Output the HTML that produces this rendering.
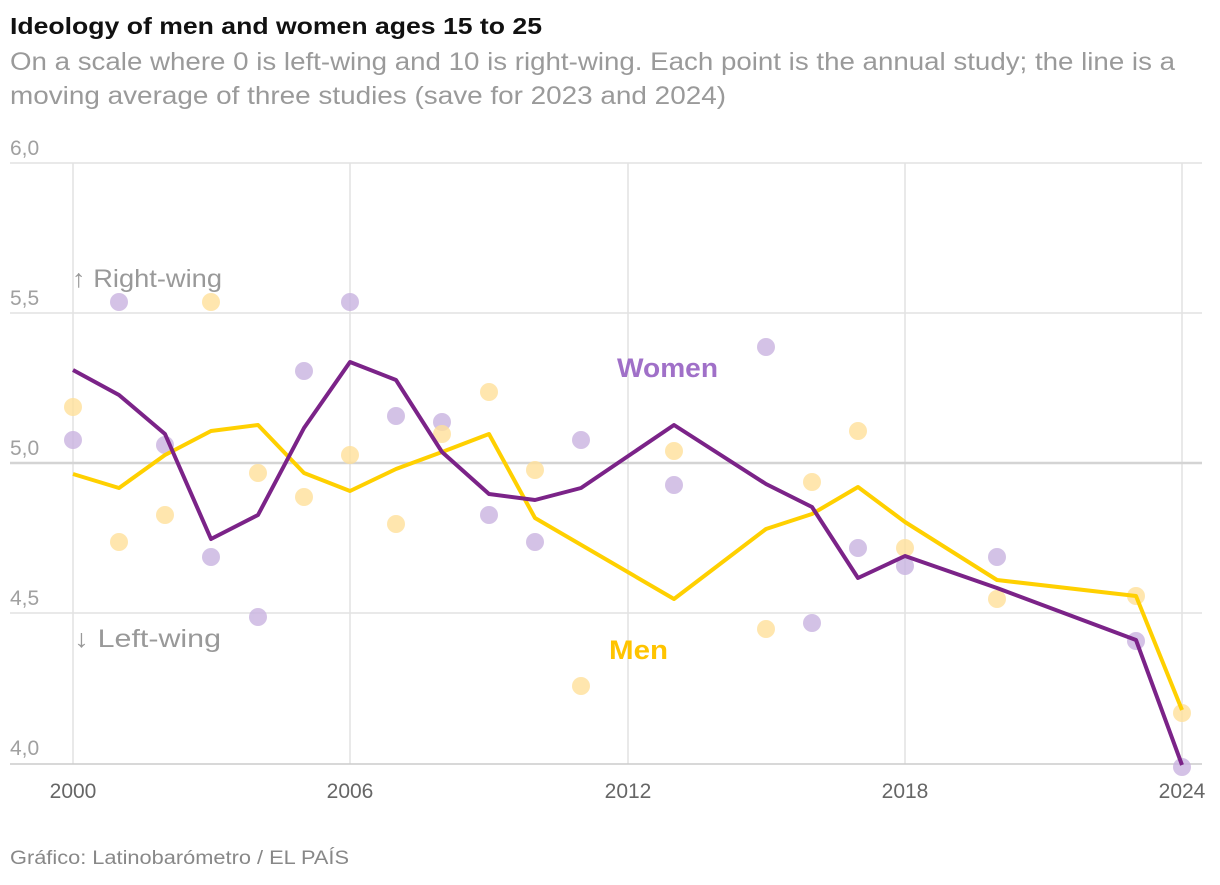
<!DOCTYPE html>
<html><head><meta charset="utf-8"><style>
body{margin:0;background:#fff;font-family:"Liberation Sans",sans-serif;}
</style></head><body>
<svg width="1220" height="880" xmlns="http://www.w3.org/2000/svg" font-family="Liberation Sans, sans-serif">
<text x="10" y="34" font-size="23" font-weight="bold" fill="#111" textLength="532" lengthAdjust="spacingAndGlyphs">Ideology of men and women ages 15 to 25</text>
<text x="10" y="70" font-size="25" fill="#9a9a9a" textLength="1165" lengthAdjust="spacingAndGlyphs">On a scale where 0 is left-wing and 10 is right-wing. Each point is the annual study; the line is a</text>
<text x="10" y="104" font-size="25" fill="#9a9a9a" textLength="716" lengthAdjust="spacingAndGlyphs">moving average of three studies (save for 2023 and 2024)</text>
<g stroke="#e2e2e2" stroke-width="1.5">
<line x1="10" y1="163" x2="1202" y2="163"/>
<line x1="10" y1="313" x2="1202" y2="313"/>
<line x1="10" y1="613" x2="1202" y2="613"/>
<line x1="73" y1="163" x2="73" y2="764"/>
<line x1="350" y1="163" x2="350" y2="764"/>
<line x1="628" y1="163" x2="628" y2="764"/>
<line x1="905" y1="163" x2="905" y2="764"/>
<line x1="1182" y1="163" x2="1182" y2="764"/>
</g>
<line x1="10" y1="463" x2="1202" y2="463" stroke="#d4d4d4" stroke-width="2.5"/>
<line x1="10" y1="764" x2="1202" y2="764" stroke="#ccc" stroke-width="1.5"/>
<g font-size="21" fill="#a0a0a0">
<text x="10" y="155">6,0</text><text x="10" y="305">5,5</text><text x="10" y="455">5,0</text><text x="10" y="605">4,5</text><text x="10" y="755">4,0</text>
</g>
<g font-size="21" fill="#666" text-anchor="middle">
<text x="73" y="798">2000</text><text x="350" y="798">2006</text><text x="628" y="798">2012</text><text x="905" y="798">2018</text><text x="1182" y="798">2024</text>
</g>
<text x="72" y="287" font-size="25" fill="#999" textLength="150" lengthAdjust="spacingAndGlyphs">↑ Right-wing</text>
<text x="74" y="647" font-size="25" fill="#999" textLength="147" lengthAdjust="spacingAndGlyphs">↓ Left-wing</text>
<g fill="#c9b3e0" opacity="0.8">
<circle cx="73" cy="440" r="9"/><circle cx="119" cy="302" r="9"/><circle cx="165" cy="445" r="9"/><circle cx="211" cy="557" r="9"/><circle cx="258" cy="617" r="9"/><circle cx="304" cy="371" r="9"/><circle cx="350" cy="302" r="9"/><circle cx="396" cy="416" r="9"/><circle cx="442" cy="422" r="9"/><circle cx="489" cy="515" r="9"/><circle cx="535" cy="542" r="9"/><circle cx="581" cy="440" r="9"/><circle cx="674" cy="485" r="9"/><circle cx="766" cy="347" r="9"/><circle cx="812" cy="623" r="9"/><circle cx="858" cy="548" r="9"/><circle cx="905" cy="566" r="9"/><circle cx="997" cy="557" r="9"/><circle cx="1136" cy="641" r="9"/><circle cx="1182" cy="767" r="9"/>
</g>
<g fill="#ffe09a" opacity="0.8">
<circle cx="73" cy="407" r="9"/><circle cx="119" cy="542" r="9"/><circle cx="165" cy="515" r="9"/><circle cx="211" cy="302" r="9"/><circle cx="258" cy="473" r="9"/><circle cx="304" cy="497" r="9"/><circle cx="350" cy="455" r="9"/><circle cx="396" cy="524" r="9"/><circle cx="442" cy="434" r="9"/><circle cx="489" cy="392" r="9"/><circle cx="535" cy="470" r="9"/><circle cx="581" cy="686" r="9"/><circle cx="674" cy="451" r="9"/><circle cx="766" cy="629" r="9"/><circle cx="812" cy="482" r="9"/><circle cx="858" cy="431" r="9"/><circle cx="905" cy="548" r="9"/><circle cx="997" cy="599" r="9"/><circle cx="1136" cy="596" r="9"/><circle cx="1182" cy="713" r="9"/>
</g>
<polyline fill="none" stroke="#ffd000" stroke-width="4" stroke-linejoin="round" points="73,474 119,488 165,455 211,431 258,425 304,473 350,491 396,469 442,452 489,434 535,518 674,599 766,529 812,514 858,487 905,522 997,580 1136,596 1182,710"/>
<polyline fill="none" stroke="#7b2388" stroke-width="4" stroke-linejoin="round" points="73,370 119,395 165,434 211,539 258,515 304,428 350,362 396,380 442,452 489,494 535,500 581,488 674,425 766,484 812,507 858,578 905,556 997,588 1136,640 1182,765"/>
<text x="617" y="377" font-size="27" font-weight="bold" fill="#a070c8" textLength="101" lengthAdjust="spacingAndGlyphs">Women</text>
<text x="609" y="659" font-size="27" font-weight="bold" fill="#ffc400" textLength="59" lengthAdjust="spacingAndGlyphs">Men</text>
<text x="10" y="864" font-size="19" fill="#888" textLength="339" lengthAdjust="spacingAndGlyphs">Gráfico: Latinobarómetro / EL PAÍS</text>
</svg>
</body></html>
